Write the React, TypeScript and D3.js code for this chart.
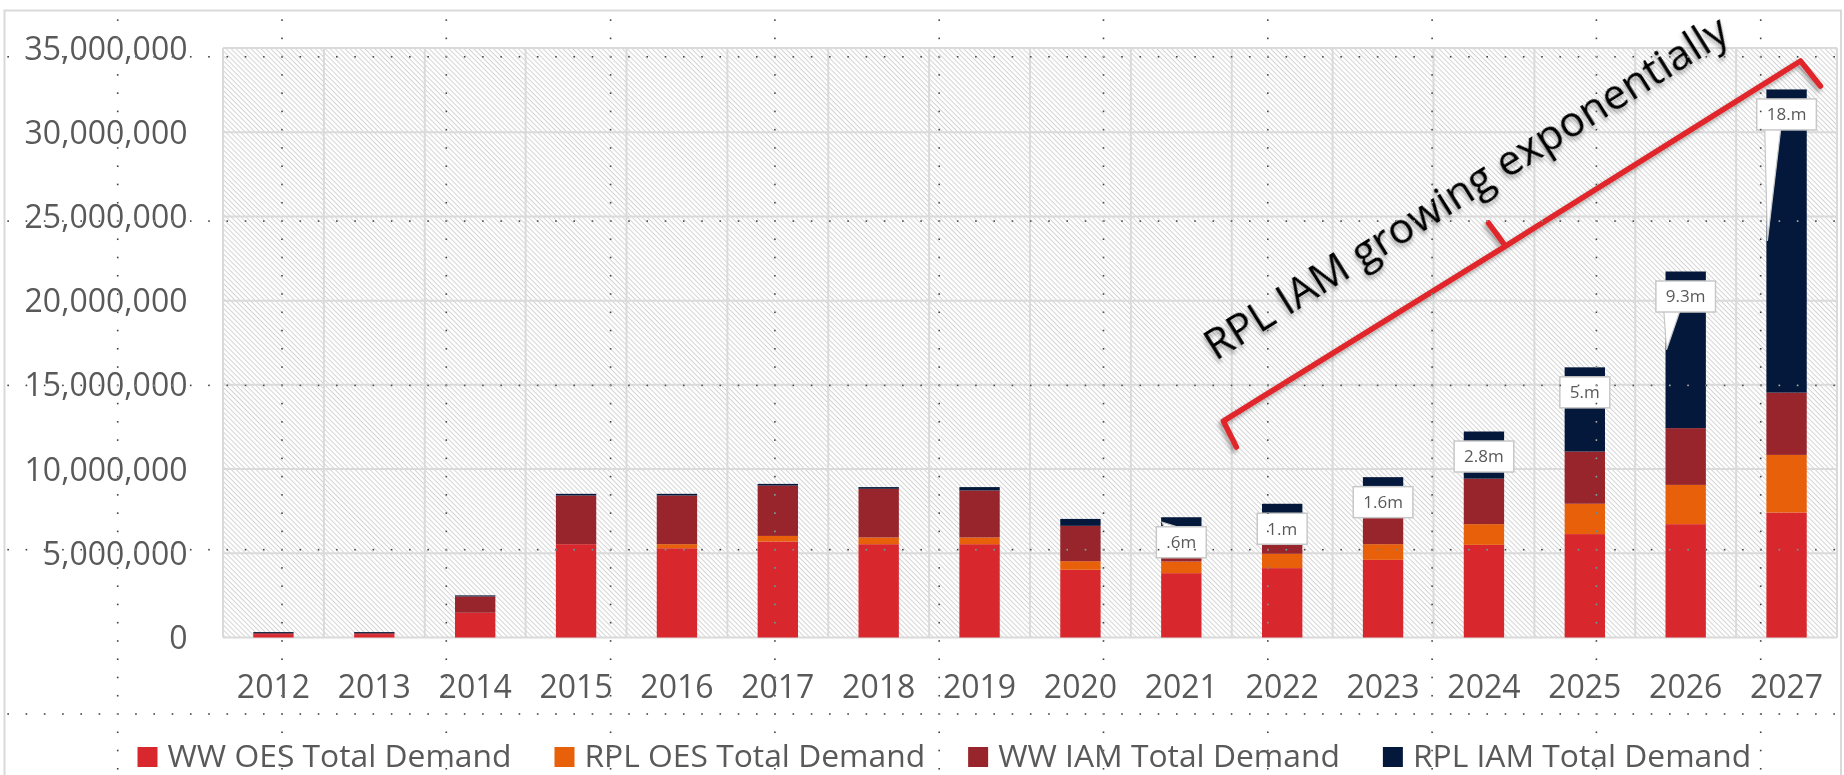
import React, { useEffect, useRef } from "react";
import * as d3 from "d3";

// demand per year (units)
const years = ["2012", "2013", "2014", "2015", "2016", "2017", "2018", "2019", "2020", "2021", "2022", "2023", "2024", "2025", "2026", "2027"];
const wwOes = [200000, 200000, 1470000, 5540000, 5300000, 5700000, 5540000, 5540000, 4020000, 3820000, 4120000, 4610000, 5500000, 6140000, 6730000, 7420000];
const rplOes = [0, 0, 0, 0, 240000, 330000, 400000, 400000, 510000, 690000, 850000, 930000, 1230000, 1800000, 2330000, 3420000];
const wwIam = [60000, 60000, 970000, 2890000, 2890000, 2990000, 2890000, 2790000, 2100000, 2030000, 1970000, 2380000, 2700000, 3100000, 3370000, 3700000];
const rplIam = [60000, 60000, 60000, 100000, 100000, 100000, 100000, 200000, 410000, 600000, 1000000, 1600000, 2800000, 5000000, 9300000, 18000000];

const seriesNames = ["WW OES Total Demand", "RPL OES Total Demand", "WW IAM Total Demand", "RPL IAM Total Demand"];
const seriesColors = ["#d8282e", "#e8600a", "#98252b", "#03183a"];
const calloutLabels = ["", "", "", "", "", "", "", "", "", ".6m", "1.m", "1.6m", "2.8m", "5.m", "9.3m", "18.m"];
const yTicks = [0, 5000000, 10000000, 15000000, 20000000, 25000000, 30000000, 35000000];

// annotation bracket, in [category index, value in millions]
const bracket = [[9.546, 11.31], [9.417, 12.85], [12.214, 23.24], [12.045, 24.61], [12.214, 23.24], [15.138, 34.23], [15.336, 32.74]];
const annotationText = "RPL IAM growing exponentially";
const annotationAnchor = [9.34, 16.4];

const FONT = "'Open Sans', 'Liberation Sans', sans-serif";
const GREY = "#595959";

const App = () => {
  const svgRef = useRef<SVGSVGElement>(null);

  useEffect(() => {
    const w = 1844;
    const h = 775;
    const svg = d3.select(svgRef.current);
    svg.selectAll("*").remove();
    svg.attr("width", w).attr("height", h);

    const left = 223, right = 1837, top = 48, bottom = 637.5;

    const x = d3.scaleBand().domain(years).range([left, right]).paddingInner(0.6).paddingOuter(0.3);
    const y = d3.scaleLinear().domain([0, 35000000]).range([bottom, top]);
    const bw = x.bandwidth();
    const xi = d3.scaleLinear().domain([0, 15]).range([x(years[0])! + bw / 2, x(years[15])! + bw / 2]);
    const ym = (v: number) => y(v * 1000000);

    const defs = svg.append("defs");
    defs.append("pattern")
      .attr("id", "hatch")
      .attr("patternUnits", "userSpaceOnUse")
      .attr("width", 3.5)
      .attr("height", 3.5)
      .attr("patternTransform", "rotate(45)")
      .append("line")
      .attr("x1", 0).attr("x2", 3.5).attr("y1", 0.5).attr("y2", 0.5)
      .attr("stroke", "#d3d3d3").attr("stroke-width", 1);
    const shadow = defs.append("filter").attr("id", "shadow").attr("x", "-20%").attr("y", "-20%").attr("width", "140%").attr("height", "140%");
    shadow.append("feDropShadow").attr("dx", -2).attr("dy", 3).attr("stdDeviation", 2).attr("flood-color", "#000").attr("flood-opacity", 0.35);

    svg.append("rect").attr("width", w).attr("height", h).attr("fill", "#fff");

    // outer frame
    svg.append("rect")
      .attr("x", 4.5).attr("y", 10.5).attr("width", 1836.5).attr("height", 800)
      .attr("fill", "none").attr("stroke", "#d9d9d9").attr("stroke-width", 2);

    // plot background
    svg.append("rect")
      .attr("x", left).attr("y", top).attr("width", right - left).attr("height", bottom - top)
      .attr("fill", "url(#hatch)");

    // gridlines
    svg.append("g").selectAll("line").data(yTicks).join("line")
      .attr("x1", left).attr("x2", right)
      .attr("y1", (d) => y(d)).attr("y2", (d) => y(d))
      .attr("stroke", "#dadada").attr("stroke-width", 2);
    const step = x.step();
    svg.append("g").selectAll("line").data(d3.range(years.length + 1)).join("line")
      .attr("x1", (i) => left + i * step).attr("x2", (i) => left + i * step)
      .attr("y1", top).attr("y2", bottom)
      .attr("stroke", "#dadada").attr("stroke-width", 2);

    // y axis labels
    svg.append("g").selectAll("text").data(yTicks).join("text")
      .attr("x", 187.5).attr("y", (d) => y(d)).attr("dy", "0.36em")
      .attr("text-anchor", "end")
      .attr("font-family", FONT).attr("font-size", 32).attr("fill", GREY)
      .text((d) => d3.format(",")(d));

    // x axis labels
    svg.append("g").selectAll("text").data(years).join("text")
      .attr("x", (d) => x(d)! + bw / 2).attr("y", 698)
      .attr("text-anchor", "middle")
      .attr("font-family", FONT).attr("font-size", 32).attr("fill", GREY)
      .text((d) => d);

    // stacked bars
    const rows = years.map((yr, i) => ({ year: yr, wwOes: wwOes[i], rplOes: rplOes[i], wwIam: wwIam[i], rplIam: rplIam[i] }));
    const stack = d3.stack<any>().keys(["wwOes", "rplOes", "wwIam", "rplIam"])(rows);
    svg.append("g").selectAll("g").data(stack).join("g")
      .attr("fill", (_, i) => seriesColors[i])
      .selectAll("rect").data((s) => s).join("rect")
      .attr("x", (d) => x(d.data.year)!)
      .attr("width", bw)
      .attr("y", (d) => y(d[1]))
      .attr("height", (d) => y(d[0]) - y(d[1]));

    // callouts for RPL IAM
    const top4 = stack[3];
    const cg = svg.append("g");
    top4.forEach((d, i) => {
      const label = calloutLabels[i];
      if (!label) return;
      const cx = x(d.data.year)! + bw / 2;
      const cy = y(d[1]) + 25;
      const t = cg.append("text")
        .attr("x", cx).attr("y", cy).attr("dy", "0.35em")
        .attr("text-anchor", "middle")
        .attr("font-family", FONT).attr("font-size", 17).attr("fill", GREY)
        .text(label);
      const tw = (t.node() as SVGTextElement).getComputedTextLength();
      const bwid = tw + 20, bh = 31;
      const bx = cx - bwid / 2, by = cy - bh / 2;
      const tipX = x(d.data.year)! + 1;
      const tipY = y((d[0] + d[1]) / 2);
      const g = cg.insert("g", () => t.node());
      if (tipY > by + bh + 2) {
        g.append("path")
          .attr("d", `M${bx + 8},${by + bh - 1} L${tipX},${tipY} L${bx + 24},${by + bh - 1}`)
          .attr("fill", "#fff").attr("stroke", "#c8c8c8").attr("stroke-width", 1.2);
      } else if (tipY < by - 2) {
        g.append("path")
          .attr("d", `M${bx + 8},${by + 1} L${tipX},${tipY} L${bx + 24},${by + 1}`)
          .attr("fill", "#fff").attr("stroke", "#c8c8c8").attr("stroke-width", 1.2);
      }
      g.append("rect")
        .attr("x", bx).attr("y", by).attr("width", bwid).attr("height", bh)
        .attr("fill", "#fff").attr("stroke", "#c8c8c8").attr("stroke-width", 1.5);
    });

    // legend
    let lx = 137.5;
    const lg = svg.append("g");
    seriesNames.forEach((name, i) => {
      lg.append("rect").attr("x", lx).attr("y", 747).attr("width", 20).attr("height", 20).attr("fill", seriesColors[i]);
      const t = lg.append("text")
        .attr("x", lx + 30).attr("y", 767)
        .attr("font-family", FONT).attr("font-size", 31.8).attr("fill", GREY)
        .text(name);
      lx += 30 + (t.node() as SVGTextElement).getComputedTextLength() + 43;
    });

    // annotation
    const line = d3.line<number[]>().x((p) => xi(p[0])).y((p) => ym(p[1]));
    svg.append("path")
      .attr("d", line(bracket))
      .attr("fill", "none").attr("stroke", "#e0262b").attr("stroke-width", 5.5)
      .attr("stroke-linejoin", "round").attr("stroke-linecap", "round")
      .attr("filter", "url(#shadow)");
    svg.append("text")
      .attr("transform", `translate(${xi(annotationAnchor[0])},${ym(annotationAnchor[1])}) rotate(-32)`)
      .attr("font-family", FONT).attr("font-size", 42.5).attr("fill", "#000")
      .attr("filter", "url(#shadow)")
      .text(annotationText);

    // guide dots
    const colX = d3.range(11).map((i) => 117.7 + 164.3 * i);
    const rowY = d3.range(5).map((j) => 56.8 + 164.3 * j);
    const dots: number[][] = [];
    colX.forEach((cx) => {
      for (let yy = 714 + 18.26 * 3; yy > 15; yy -= 18.26) dots.push([cx, yy]);
    });
    rowY.forEach((ry) => {
      for (let xx = 117.7 - 18.26 * 6; xx < w; xx += 18.26) dots.push([xx, ry]);
    });
    svg.append("g").selectAll("rect").data(dots).join("rect")
      .attr("x", (p) => p[0] - 0.8).attr("y", (p) => p[1] - 0.8)
      .attr("width", 1.6).attr("height", 1.6)
      .attr("fill", "#fff").attr("opacity", 0.75)
      .style("mix-blend-mode", "difference");
  }, []);

  return <svg ref={svgRef} style={{ position: "absolute", left: 0, top: 0, display: "block" }} />;
};

export default App;
